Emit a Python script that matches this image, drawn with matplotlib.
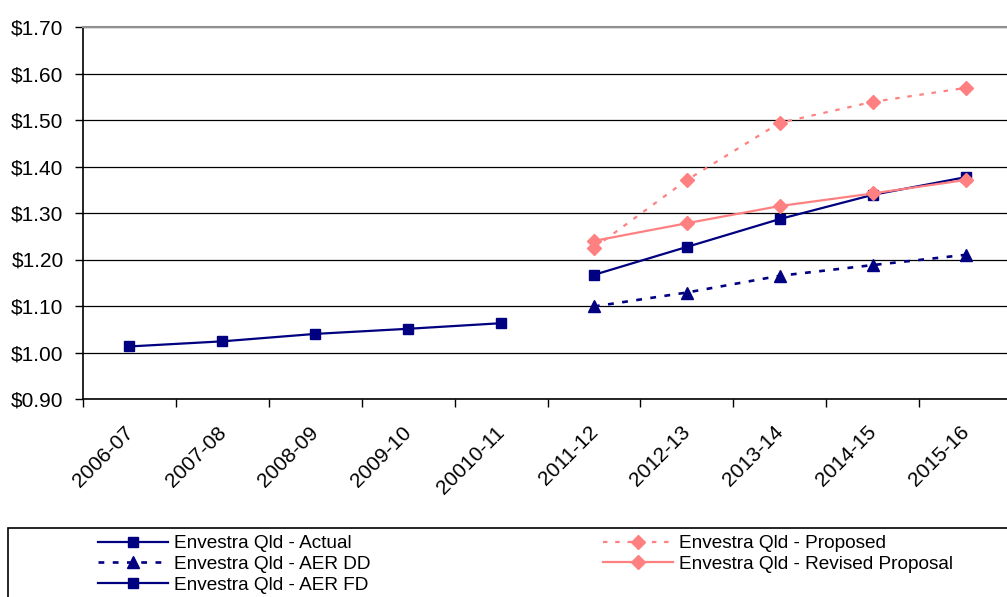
import matplotlib
matplotlib.use("Agg")
import matplotlib.pyplot as plt
import matplotlib.transforms as mtransforms
from matplotlib.patches import Rectangle
import numpy as np

plt.rcParams['font.family'] = ['Liberation Sans', 'DejaVu Sans']

years = ['2006-07', '2007-08', '2008-09', '2009-10', '20010-11',
         '2011-12', '2012-13', '2013-14', '2014-15', '2015-16']

# $ per unit, history then forecast period
actual = [1.013, 1.024, 1.040, 1.051, 1.063]
aer_dd = [1.099, 1.129, 1.165, 1.188, 1.210]
aer_fd = [1.167, 1.227, 1.287, 1.339, 1.377]
proposed = [1.225, 1.371, 1.494, 1.539, 1.569]
revised = [1.240, 1.278, 1.315, 1.342, 1.371]

navy = '#000080'
salmon = '#FF8080'

x = np.arange(len(years))
x_hist = x[:5]
x_fc = x[5:]

fig = plt.figure(figsize=(10.07, 5.97), dpi=100)
ax = fig.add_axes([83 / 1007, 1 - 399 / 597, 929 / 1007, 372 / 597])

l1, = ax.plot(x_hist, actual, color=navy, lw=1.6, marker='s', ms=7,
              label='Envestra Qld - Actual')
l2, = ax.plot(x_fc, aer_dd, color=navy, lw=1.9, ls=(0, (2.2, 3.2)), marker='^', ms=8.5,
              label='Envestra Qld - AER DD')
l3, = ax.plot(x_fc, aer_fd, color=navy, lw=1.6, marker='s', ms=7,
              label='Envestra Qld - AER FD')
l4, = ax.plot(x_fc, proposed, color=salmon, lw=1.6, ls=(0, (2, 3.5)), marker='D', ms=7.5,
              label='Envestra Qld - Proposed')
l5, = ax.plot(x_fc, revised, color=salmon, lw=1.6, marker='D', ms=7.5,
              label='Envestra Qld - Revised Proposal')

ax.set_xlim(-0.5, len(years) - 0.5)
ax.set_ylim(0.90, 1.70)
yt = np.arange(0.90, 1.71, 0.10)
ax.set_yticks(yt)
ax.set_yticklabels(['$%.2f' % v for v in yt], fontsize=15)
ax.grid(axis='y', color='black', lw=0.9)
ax.set_axisbelow(True)

# category boundaries carry the tick marks, centres carry the labels
ax.set_xticks(np.arange(-0.5, len(years) - 0.4, 1.0))
ax.set_xticklabels([])
ax.set_xticks(x, minor=True)
ax.set_xticklabels(years, minor=True, rotation=45, ha='right', va='top',
                   rotation_mode='anchor', fontsize=15)
ax.tick_params(axis='x', which='minor', length=0, pad=17)
ax.tick_params(axis='x', which='major', length=6, width=1, direction='out')
ax.tick_params(axis='y', length=6, width=1, direction='out', pad=8)
shift = mtransforms.ScaledTranslation(-6 / 100, 0, fig.dpi_scale_trans)
for lbl in ax.get_xticklabels(minor=True):
    lbl.set_transform(lbl.get_transform() + shift)

ax.spines['right'].set_visible(False)
ax.spines['top'].set_color('#909090')
ax.spines['top'].set_linewidth(1.5)
ax.spines['left'].set_linewidth(1.2)
ax.spines['bottom'].set_linewidth(1.2)

# legend frame running off the bottom and right of the figure
fig.patches.append(Rectangle((8 / 1007, -0.05), 1.1, (597 - 528) / 597 + 0.05,
                             transform=fig.transFigure, fill=False,
                             edgecolor='black', lw=1.2))
leg_kw = dict(loc='upper left', frameon=False, fontsize=13.7, handlelength=3.7,
              handletextpad=0.3, labelspacing=0.18, borderpad=0, borderaxespad=0)
fig.legend([l1, l2, l3], [l1.get_label(), l2.get_label(), l3.get_label()],
           bbox_to_anchor=(98 / 1007, 1 - 535 / 597), **leg_kw)
fig.legend([l4, l5], [l4.get_label(), l5.get_label()],
           bbox_to_anchor=(603 / 1007, 1 - 535 / 597), **leg_kw)

fig.savefig('out.png', dpi=100)
